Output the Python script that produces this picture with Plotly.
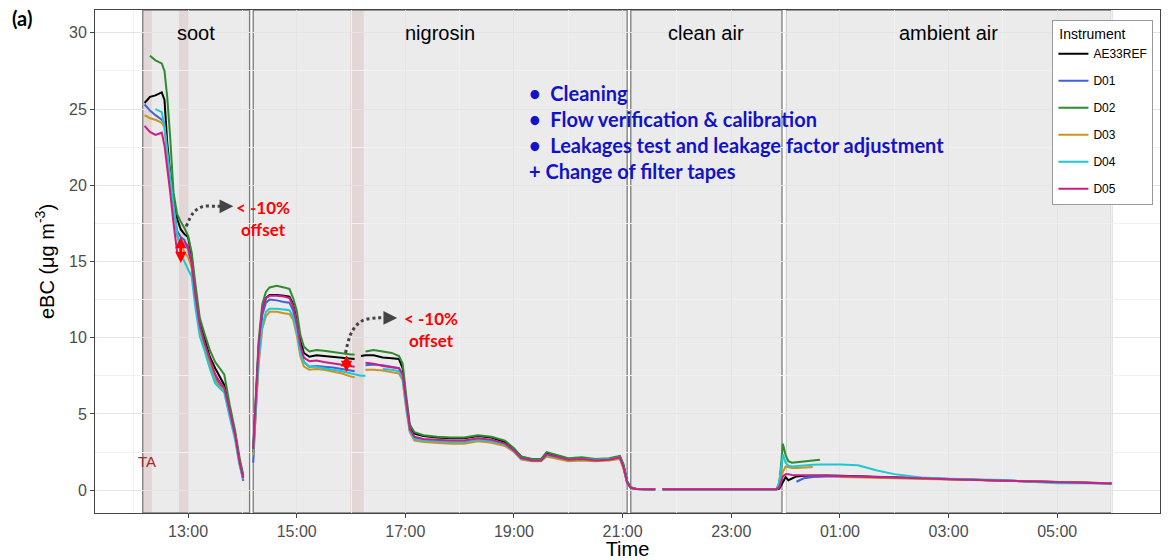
import datetime as dt
import plotly.graph_objects as go

# ---------------------------------------------------------------------------
# Sampling times (HH:MM); times before 11:00 belong to the following day
# ---------------------------------------------------------------------------
TIME = [
    # soot
    "12:12", "12:18", "12:24", "12:31", "12:34", "12:37", "12:40", "12:44",
    "12:48", "12:52", "12:56", "13:00", "13:04", "13:08", "13:13", "13:18",
    "13:24", "13:30", "13:35", "13:40", "13:46", "13:52", "13:57", "14:01",
    # break
    "14:06",
    # nigrosin
    "14:12", "14:15", "14:18", "14:22", "14:26", "14:30", "14:38", "14:46",
    "14:52", "14:56", "15:00", "15:04", "15:08", "15:14", "15:22", "15:30",
    "15:40", "15:50", "16:00", "16:04", "16:08", "16:11", "16:16", "16:25",
    "16:35", "16:45", "16:53", "16:57", "17:01", "17:05", "17:10", "17:20",
    "17:35", "17:50", "18:05", "18:20", "18:35", "18:50", "19:00", "19:08",
    "19:20", "19:30", "19:36", "19:45", "20:00", "20:15", "20:30", "20:45",
    "20:57", "21:01", "21:05", "21:09",
    # clean air
    "21:15", "21:25", "21:36", "21:40", "21:44", "22:00", "22:20", "22:40",
    "23:00", "23:20", "23:40", "23:50",
    # ambient air
    "23:53", "23:57", "00:00", "00:03", "00:07", "00:12", "00:20", "00:30",
    "00:38", "00:45", "01:00", "01:20", "01:40", "02:00", "02:30", "03:00",
    "03:30", "04:00", "04:30", "05:00", "05:30", "06:00",
]

N = None

AE33REF = [
    25.4, 25.8, 25.9, 26.1, 25.6, 22.8, 21.0, 19.2,
    17.8, 17.1, 16.8, 16.6, 15.4, 13.0, 11.0, 10.0,
    8.75, 8.0, 7.4, 6.9, 5.3, 3.7, 1.9, 0.9,
    N,
    2.5, 6.0, 9.3, 11.8, 12.6, 12.8, 12.8, 12.75,
    12.7, 12.2, 11.2, 9.8, 9.0, 8.75, 8.85, 8.8,
    8.75, 8.7, 8.65, 8.6, N, 8.8, 8.85, 8.85,
    8.7, 8.65, 8.6, 8.0, 5.8, 4.1, 3.7, 3.55,
    3.45, 3.4, 3.4, 3.55, 3.45, 3.15, 2.7, 2.2,
    2.0, 2.0, 2.45, 2.3, 2.05, 2.1, 2.0, 2.05,
    2.2, 1.6, 0.55, 0.15,
    0.08, 0.05, 0.05, N, 0.05, 0.06, 0.05, 0.05,
    0.06, 0.05, 0.05, 0.05,
    0.1, 0.5, 0.85, 0.65, 0.75, 0.9, 0.95, 0.97,
    0.97, 0.96, 0.95, 0.92, 0.88, 0.85, 0.79, 0.73,
    0.68, 0.62, 0.58, 0.55, 0.5, 0.45,
]

D01 = [
    25.3, 24.9, 24.6, 24.3, 24.1, 22.0, 20.5, 18.7,
    17.0, 16.6, 16.4, 15.8, 14.7, 12.6, 10.6, 9.6,
    8.4, 7.4, 6.9, 6.6, 5.1, 3.5, 1.8, 0.6,
    N,
    1.8, 5.7, 9.0, 11.5, 12.3, 12.5, 12.45, 12.35,
    12.3, 11.8, 10.7, 9.2, 8.4, 8.1, 8.15, 8.1,
    8.05, 7.95, 7.85, 7.8, N, N, 8.2, 8.25,
    8.2, 8.1, 8.0, 7.5, 5.5, 3.9, 3.4, 3.25,
    3.2, 3.15, 3.15, 3.3, 3.2, 3.0, 2.55, 2.05,
    1.95, 1.95, 2.3, 2.15, 1.95, 2.0, 1.95, 2.0,
    2.1, 1.45, 0.5, 0.15,
    0.07, 0.05, 0.04, N, 0.05, 0.05, 0.06, 0.05,
    0.05, 0.05, 0.06, 0.05,
    0.5, 2.3, N, N, N, 0.55, 0.78, 0.86,
    0.89, 0.9, 0.91, 0.89, 0.86, 0.83, 0.77, 0.72,
    0.67, 0.61, 0.57, 0.54, 0.49, 0.44,
]

D02 = [
    N, 28.5, 28.2, 28.0, 27.5, 25.8, 23.4, 19.5,
    18.1, 17.6, 17.2, 16.7, 15.6, 13.6, 11.3, 10.3,
    9.2, 8.4, 8.0, 7.6, 5.6, 3.9, 2.1, 1.0,
    N,
    2.8, 6.5, 9.8, 12.2, 13.0, 13.3, 13.4, 13.3,
    13.2, 12.6, 11.8, 10.2, 9.4, 9.1, 9.2, 9.15,
    9.05, 8.95, 8.9, 8.9, N, N, 9.1, 9.2,
    9.1, 9.0, 8.8, 8.3, 6.2, 4.3, 3.8, 3.6,
    3.5, 3.45, 3.45, 3.6, 3.5, 3.25, 2.75, 2.2,
    2.05, 2.05, 2.5, 2.35, 2.1, 2.15, 2.05, 2.1,
    2.25, 1.7, 0.6, 0.2,
    0.09, 0.06, 0.05, N, 0.06, 0.05, 0.05, 0.06,
    0.05, 0.06, 0.05, 0.06,
    0.3, 3.05, 2.3, 1.9, 1.8, 1.82, 1.88, 1.95,
    2.0, N, N, N, N, N, N, N,
    N, N, N, N, N, N,
]

D03 = [
    24.6, 24.4, 24.3, 24.1, 23.8, 21.7, 20.0, 18.3,
    16.7, 16.2, 15.6, 15.3, 14.6, 12.5, 10.5, 9.5,
    8.3, 7.2, 6.8, 6.6, 5.0, 3.5, 1.7, 0.8,
    N,
    2.3, 5.2, 8.2, 10.6, 11.4, 11.7, 11.7, 11.6,
    11.55, 11.2, 10.2, 8.8, 8.1, 7.9, 7.95, 7.9,
    7.8, 7.65, 7.45, 7.4, N, N, 7.9, 7.9,
    7.85, 7.75, 7.65, 7.2, 5.3, 3.8, 3.25, 3.15,
    3.1, 3.05, 3.05, 3.2, 3.1, 2.9, 2.5, 2.0,
    1.9, 1.9, 2.2, 2.1, 1.9, 1.95, 1.9, 1.95,
    2.05, 1.4, 0.45, 0.15,
    0.07, 0.05, 0.05, N, 0.06, 0.07, 0.05, 0.05,
    0.06, 0.05, 0.05, 0.05,
    0.2, 1.2, 1.55, 1.5, 1.45, 1.45, 1.48, 1.52,
    N, N, 0.86, 0.84, 0.82, 0.8, 0.75, 0.7,
    0.66, 0.6, 0.56, 0.53, 0.48, 0.44,
]

D04 = [
    N, N, 25.0, 24.8, 23.8, 22.4, 20.8, 18.6,
    16.8, 15.5, 15.0, 14.5, 14.0, 12.0, 10.1, 9.2,
    8.0, 7.0, 6.7, 6.4, 4.8, 3.3, 1.6, 0.7,
    N,
    2.6, 5.5, 8.5, 10.8, 11.7, 11.9, 11.9, 11.85,
    11.8, 11.4, 10.4, 9.0, 8.4, 8.1, 8.1, 8.0,
    7.9, 7.8, 7.65, 7.6, 7.55, 7.5, 7.5, N,
    7.95, 7.9, 7.8, 7.3, 5.4, 3.85, 3.35, 3.25,
    3.2, 3.15, 3.15, 3.3, 3.2, 3.0, 2.55, 2.05,
    1.95, 1.95, 2.3, 2.2, 2.0, 2.05, 2.0, 2.05,
    2.15, 1.5, 0.5, 0.15,
    0.08, 0.05, 0.05, N, 0.05, 0.05, 0.05, 0.06,
    0.05, 0.05, 0.05, 0.05,
    0.5, 2.35, 1.8, 1.6, 1.55, 1.58, 1.62, 1.66,
    1.68, 1.69, 1.69, 1.63, 1.3, 1.05, 0.83, 0.75,
    0.7, 0.66, 0.55, 0.45, 0.45, 0.44,
]

D05 = [
    23.9, 23.5, 23.3, 23.45, 22.6, 21.3, 19.7, 17.5,
    15.6, N, 16.3, 16.0, 14.9, 12.8, 10.8, 9.7,
    8.6, 7.6, 7.1, 6.7, 5.2, 3.6, 1.8, 0.8,
    N,
    2.7, 6.3, 9.5, 11.9, 12.6, 12.75, 12.75, 12.7,
    12.6, 12.1, 11.0, 9.5, 8.7, 8.45, 8.5, 8.4,
    8.3, 8.25, 8.15, 8.1, N, N, 8.35, 8.3,
    8.15, 8.05, 8.0, 7.6, 5.6, 4.0, 3.5, 3.35,
    3.3, 3.25, 3.25, 3.4, 3.3, 3.05, 2.6, 2.1,
    1.95, 1.95, 2.35, 2.2, 2.0, 2.05, 1.95, 2.0,
    2.15, 1.5, 0.5, 0.15,
    0.08, 0.05, 0.05, N, 0.05, 0.05, 0.05, 0.05,
    0.05, 0.05, 0.05, 0.05,
    0.2, 0.9, 1.05, 1.05, 1.0, 0.98, 0.97, 0.96,
    0.95, 0.94, 0.93, 0.9, 0.87, 0.84, 0.78, 0.72,
    0.67, 0.61, 0.58, 0.55, 0.5, 0.44,
]

INSTRUMENTS = ["AE33REF", "D01", "D02", "D03", "D04", "D05"]
SERIES = [AE33REF, D01, D02, D03, D04, D05]
COLORS = ["#000000", "#3D63D6", "#2E8B2E", "#C9951F", "#1EC8D3", "#CC1E8A"]

# Experiment phases and filter-tape change windows
PHASES = ["soot", "nigrosin", "clean air", "ambient air"]
PHASE_START = ["12:10", "14:12", "21:09", "00:00"]
PHASE_END = ["14:08", "21:05", "23:56", "06:00"]
BAND_START = ["12:10", "12:50", "15:59"]
BAND_END = ["12:20", "13:00", "16:14"]

STEPS = [
    "\u2022  Cleaning",
    "\u2022  Flow verification & calibration",
    "\u2022  Leakages test and leakage factor adjustment",
    "+ Change of filter tapes",
]

BASE = dt.datetime(2019, 3, 5)


def at_dt(hhmm, sec=0):
    h, m = map(int, hhmm.split(":"))
    t = BASE + dt.timedelta(hours=h, minutes=m, seconds=sec)
    if h < 11:
        t += dt.timedelta(days=1)
    return t


def at(hhmm, sec=0):
    return at_dt(hhmm, sec).strftime("%Y-%m-%d %H:%M:%S")


def midpoint(a, b):
    ta, tb = at_dt(a), at_dt(b)
    return (ta + (tb - ta) / 2).strftime("%Y-%m-%d %H:%M:%S")


for s in SERIES:
    assert len(s) == len(TIME), len(s)

x_time = [at(t) for t in TIME]

fig = go.Figure()

# measured eBC series
for name, vals, col in zip(INSTRUMENTS, SERIES, COLORS):
    fig.add_trace(go.Scatter(
        x=x_time, y=vals, mode="lines", name=name, legendgroup=name,
        line=dict(color=col, width=2), connectgaps=False, hoverinfo="skip",
    ))

# phase rectangles and separators
shapes = []
for s, e in zip(PHASE_START, PHASE_END):
    shapes.append(dict(
        type="rect", xref="x", yref="paper", x0=at(s), x1=at(e), y0=0, y1=1,
        fillcolor="rgba(0,0,0,0.08)", line=dict(color="#7a7a7a", width=1.3),
        layer="between",
    ))
for s, e in zip(BAND_START, BAND_END):
    shapes.append(dict(
        type="rect", xref="x", yref="paper", x0=at(s), x1=at(e), y0=0, y1=1,
        fillcolor="rgba(190,110,110,0.17)", line=dict(width=0),
        layer="between",
    ))
fig.update_layout(shapes=shapes)

annotations = []
for name, s, e in zip(PHASES, PHASE_START, PHASE_END):
    annotations.append(dict(
        x=midpoint(s, e), y=30, xref="x", yref="y", text=name, showarrow=False,
        font=dict(family="Liberation Sans, Arial", size=20, color="#000000"),
        xanchor="center", yanchor="middle",
    ))

# maintenance steps
step_y = [26.05, 24.35, 22.65, 20.95]
for txt, yy in zip(STEPS, step_y):
    annotations.append(dict(
        x=at("19:14", 30), y=yy, xref="x", yref="y", text="<b>" + txt + "</b>",
        showarrow=False, font=dict(family="Lato", size=20, color="#1212c8"),
        xanchor="left", yanchor="middle",
    ))

# offset labels
for tx, yy in [("13:51", 17.85), ("16:56", 10.55)]:
    annotations.append(dict(
        x=at(tx), y=yy, xref="x", yref="y", text="<b>&lt; -10%<br>offset</b>",
        showarrow=False, align="center", xanchor="left", yanchor="middle",
        font=dict(family="Lato", size=17, color="#ff0000"),
    ))

# dotted pointers (drawn as spline traces) with arrow heads
pointers = [
    (["12:58", "13:06", "13:16", "13:30", "13:44"], [17.3, 18.2, 18.6, 18.62, 18.62],
     "13:50", 18.62),
    (["15:54", "16:01", "16:12", "16:28", "16:45"], [9.0, 10.4, 11.1, 11.3, 11.3],
     "16:51", 11.3),
]
for xs, ys, hx, hy in pointers:
    fig.add_trace(go.Scatter(
        x=[at(v) for v in xs], y=ys, mode="lines", showlegend=False,
        line=dict(color="#444444", width=3, dash="dot", shape="spline"),
        hoverinfo="skip",
    ))
    annotations.append(dict(
        x=at(hx), y=hy, ax=at(xs[-1]), ay=ys[-1], xref="x", yref="y",
        axref="x", ayref="y", text="", showarrow=True, arrowhead=2,
        arrowsize=1.1, arrowwidth=2.5, arrowcolor="#444444",
    ))

# red double-headed offset arrows
for tx, lo, hi in [("12:52", 14.9, 16.7), ("15:55", 7.75, 8.95)]:
    annotations.append(dict(
        x=at(tx), y=lo, ax=at(tx), ay=hi, xref="x", yref="y",
        axref="x", ayref="y", text="", showarrow=True, arrowhead=2,
        startarrowhead=2, arrowside="end+start", arrowsize=0.9,
        startarrowsize=0.9, arrowwidth=2.5, arrowcolor="#ff0000",
    ))

annotations.append(dict(
    x=at("12:15"), y=1.85, xref="x", yref="y", text="TA", showarrow=False,
    font=dict(family="Liberation Sans, Arial", size=15, color="#9e2a2a"),
))
annotations.append(dict(
    x=-0.0685, y=0.984, xref="paper", yref="paper", text="<b>(a)</b>",
    showarrow=False, xanchor="center", yanchor="middle",
    font=dict(family="Lato", size=20, color="#000000"),
))

fig.update_layout(
    annotations=annotations,
    width=1170, height=560,
    margin=dict(l=95, r=10, t=10, b=47),
    paper_bgcolor="white", plot_bgcolor="white",
    font=dict(family="Liberation Sans, Arial", color="#4d4d4d"),
    showlegend=True,
    legend=dict(
        x=0.899, y=0.98, xanchor="left", yanchor="top",
        bgcolor="white", bordercolor="#9a9a9a", borderwidth=1,
        font=dict(family="Liberation Sans, Arial", size=12, color="#000000"),
        title=dict(text=" Instrument   ",
                   font=dict(family="Liberation Sans, Arial", size=14, color="#000000")),
        tracegroupgap=8, itemwidth=30,
    ),
    hovermode=False,
)

fig.update_xaxes(
    type="date", range=[at("11:17", 15), at("06:53", 30)],
    tick0=at("13:00"), dtick=2 * 3600 * 1000, tickformat="%H:%M",
    ticks="outside", ticklen=4, tickcolor="#444444",
    tickfont=dict(size=16, color="#4d4d4d"),
    showgrid=True, gridcolor="#e4e4e4", gridwidth=1,
    minor=dict(dtick=3600 * 1000, tick0=at("12:00"), showgrid=True,
               gridcolor="#f1f1f1", gridwidth=1),
    showline=True, linecolor="#444444", linewidth=1, mirror=True,
    zeroline=False,
    title=dict(text="Time", font=dict(size=20, color="#000000"), standoff=7),
    automargin=False,
)
fig.update_yaxes(
    range=[-1.5, 31.5], tick0=0, dtick=5,
    ticks="outside", ticklen=4, tickcolor="#444444",
    tickfont=dict(size=16, color="#4d4d4d"),
    showgrid=True, gridcolor="#e4e4e4", gridwidth=1,
    minor=dict(dtick=2.5, showgrid=True, gridcolor="#f1f1f1", gridwidth=1),
    showline=True, linecolor="#444444", linewidth=1, mirror=True,
    zeroline=False,
    title=dict(text="eBC (\u03bcg m<sup>-3</sup>)", font=dict(size=20, color="#000000"),
               standoff=9),
    automargin=False,
)

fig.write_html("out.html")
